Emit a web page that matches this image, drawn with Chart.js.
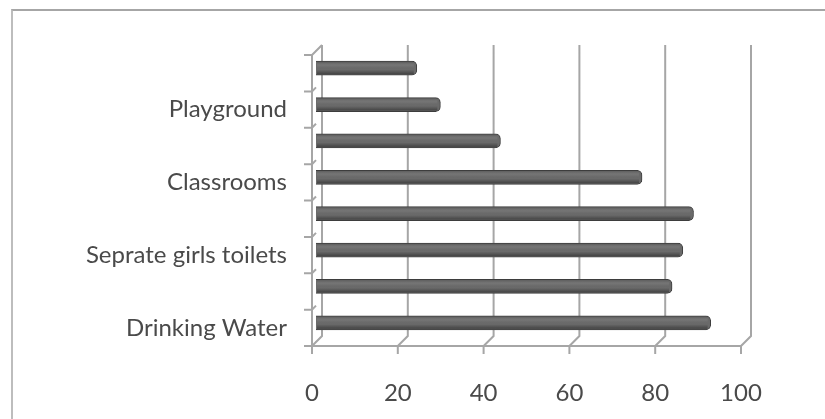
<!DOCTYPE html>
<html>
<head>
<meta charset="utf-8">
<script src="https://cdn.jsdelivr.net/npm/chart.js@4.4.1/dist/chart.umd.min.js"></script>
<style>
    html, body { margin: 0; padding: 0; background: #fff; overflow: hidden; }
    #frame {
        position: absolute; left: 11px; top: 9px;
        width: 900px; height: 500px;
        border-top: 2px solid #a6a6a6; border-left: 2px solid #bdbdbd;
    }
    #wrap { position: absolute; left: 0; top: 0; width: 825px; height: 419px; }
</style>
</head>
<body>
<div id="frame"></div>
<div id="wrap"><canvas id="chart" width="825" height="419"></canvas></div>
<script>
// categories listed bottom to top, only every other label is printed in the original
const categories = ['Drinking Water', '', 'Seprate girls toilets', '', 'Classrooms', '', 'Playground', ''];
const values = [92, 83, 85.5, 88, 76, 43, 29, 23.5];
const xTicks = [0, 20, 40, 60, 80, 100];

// depth offset for the fake 3D walls
const DX = 10, DY = 12;
const WALL = '#a6a6a6';

const wallsPlugin = {
    id: 'walls',
    beforeDatasetsDraw(chart) {
        const ctx = chart.ctx;
        const x = chart.scales.x, y = chart.scales.y;
        const a = chart.chartArea;
        ctx.save();
        ctx.strokeStyle = WALL;
        ctx.lineWidth = 2;
        ctx.beginPath();
        // back wall verticals + floor diagonals
        xTicks.forEach(v => {
            const px = x.getPixelForValue(v);
            ctx.moveTo(px + DX, a.top - DY + 2);
            ctx.lineTo(px + DX, a.bottom - DY + 2);
            ctx.lineTo(px, a.bottom);
            // tick below floor
            ctx.moveTo(px, a.bottom);
            ctx.lineTo(px, a.bottom + 8);
        });
        // front axes
        ctx.moveTo(a.left, a.top);
        ctx.lineTo(a.left, a.bottom);
        ctx.lineTo(a.right, a.bottom);
        ctx.moveTo(a.left, a.top);
        ctx.lineTo(a.left + DX, a.top - DY + 2);
        // category boundary ticks
        const step = Math.abs(y.getPixelForValue(1) - y.getPixelForValue(0));
        for (let i = 0; i <= categories.length; i++) {
            const py = y.getPixelForValue(i) + step / 2;
            ctx.moveTo(a.left - 8, py);
            ctx.lineTo(a.left, py);
            ctx.lineTo(a.left + 4, py - 4);
        }
        ctx.stroke();
        ctx.restore();

        // bars sit a bit deeper than the front plane
        ctx.save();
        ctx.translate(4, -5);
    },
    afterDatasetsDraw(chart) {
        const ctx = chart.ctx;
        // shading so the bars look like rounded bars
        chart.getDatasetMeta(0).data.forEach(el => {
            const p = el.getProps(['x', 'y', 'base', 'height']);
            const top = p.y - p.height / 2;
            const g = ctx.createLinearGradient(0, top, 0, top + p.height);
            g.addColorStop(0, 'rgba(0,0,0,0.30)');
            g.addColorStop(0.35, 'rgba(255,255,255,0.05)');
            g.addColorStop(0.6, 'rgba(0,0,0,0)');
            g.addColorStop(1, 'rgba(0,0,0,0.45)');
            ctx.fillStyle = g;
            ctx.fillRect(p.base + 1, top + 1, p.x - p.base - 4, p.height - 2);
        });
        ctx.restore();
    }
};

new Chart(document.getElementById('chart').getContext('2d'), {
    type: 'bar',
    data: {
        labels: categories,
        datasets: [{
            data: values,
            backgroundColor: '#6a6a6a',
            borderColor: '#3d3d3d',
            borderWidth: 1,
            borderRadius: { topRight: 5, bottomRight: 5 },
            borderSkipped: 'start',
            barThickness: 14
        }]
    },
    options: {
        indexAxis: 'y',
        responsive: false,
        animation: false,
        layout: { padding: { left: 0, right: 84, top: 55, bottom: 0 } },
        plugins: { legend: { display: false }, tooltip: { enabled: false } },
        scales: {
            x: {
                min: 0, max: 100,
                afterBuildTicks: s => { s.ticks = xTicks.map(v => ({ value: v })); },
                afterFit: s => { s.height = 73; },
                border: { display: false },
                grid: { display: false, drawTicks: false },
                ticks: {
                    padding: 33,
                    color: '#4a4a4a',
                    font: { family: 'Lato', size: 24 }
                }
            },
            y: {
                reverse: true,
                afterFit: s => { s.width = 312; },
                border: { display: false },
                grid: { display: false, drawTicks: false },
                ticks: {
                    autoSkip: false,
                    padding: 25,
                    color: '#4a4a4a',
                    font: { family: 'Lato', size: 24 }
                }
            }
        }
    },
    plugins: [wallsPlugin]
});
</script>
</body>
</html>
